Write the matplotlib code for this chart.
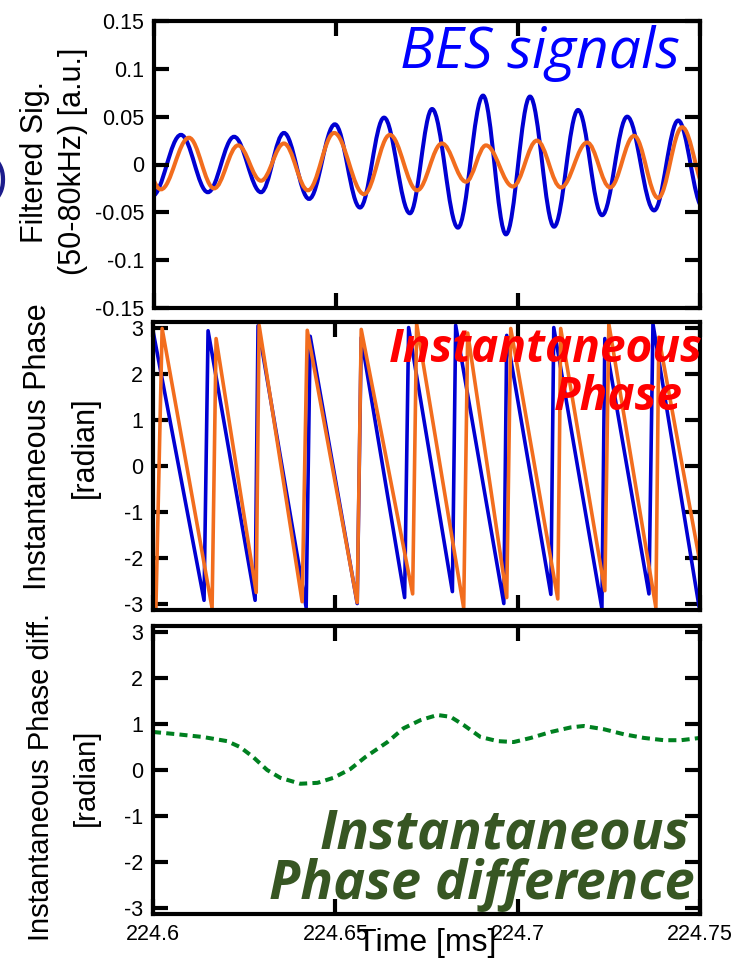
import matplotlib
matplotlib.use("Agg")
import matplotlib.pyplot as plt
from matplotlib.path import Path
from matplotlib.patches import PathPatch

plt.rcParams['font.family'] = ['Liberation Sans', 'DejaVu Sans']

# filtered BES signals, peaks and troughs (time in ms)
sig_blue_t = [224.5995, 224.6074, 224.6148, 224.6220, 224.6294, 224.6357, 224.6426, 224.6497,
              224.6566, 224.6632, 224.6703, 224.6764, 224.6835, 224.6904, 224.6967, 224.7033,
              224.7099, 224.7165, 224.7231, 224.7300, 224.7374, 224.7440, 224.7508]
sig_blue_v = [-0.033, 0.031, -0.029, 0.029, -0.029, 0.033, -0.036, 0.042,
              -0.045, 0.049, -0.051, 0.058, -0.066, 0.072, -0.073, 0.071,
              -0.065, 0.057, -0.053, 0.050, -0.048, 0.046, -0.045]
sig_orange_t = [224.5948, 224.6019, 224.6096, 224.6165, 224.6231, 224.6294, 224.6357, 224.6423,
                224.6495, 224.6577, 224.6648, 224.6723, 224.6791, 224.6857, 224.6912, 224.6986,
                224.7052, 224.7118, 224.7190, 224.7253, 224.7319, 224.7385, 224.7451, 224.7519]
sig_orange_v = [0.028, -0.026, 0.028, -0.025, 0.020, -0.017, 0.022, -0.027,
                0.033, -0.031, 0.031, -0.027, 0.022, -0.018, 0.020, -0.023,
                0.025, -0.024, 0.023, -0.024, 0.030, -0.035, 0.039, -0.028]

# instantaneous phase, corners of the sawtooth [rad]
phase_blue_t = [224.6000, 224.6140, 224.6151, 224.6280, 224.6288, 224.6420, 224.6431, 224.6560,
                224.6571, 224.6690, 224.6701, 224.6821, 224.6830, 224.6962, 224.6970, 224.7091,
                224.7099, 224.7231, 224.7239, 224.7360, 224.7371, 224.7497]
phase_blue_v = [2.95, -2.93, 2.95, -2.93, 3.06, -3.09, 2.83, -3.00,
                2.80, -2.87, 3.02, -2.74, 3.07, -3.00, 2.85, -2.80,
                3.02, -3.11, 2.78, -2.79, 3.10, -3.05]
phase_orange_t = [224.5986, 224.6008, 224.6025, 224.6162, 224.6173, 224.6283, 224.6291, 224.6409,
                  224.6423, 224.6560, 224.6571, 224.6712, 224.6723, 224.6852, 224.6863, 224.6970,
                  224.6981, 224.7110, 224.7118, 224.7239, 224.7250, 224.7379, 224.7387, 224.7503]
phase_orange_v = [-2.30, -3.10, 3.00, -3.10, 2.78, -2.76, 3.07, -2.96,
                  2.96, -2.98, 2.98, -2.79, 3.10, -3.10, 2.90, -2.87,
                  3.00, -2.90, 3.00, -2.72, 3.10, -3.09, 2.81, -2.24]

# instantaneous phase difference [rad]
dphase_t = [224.6000, 224.6066, 224.6137, 224.6203, 224.6239, 224.6275, 224.6313, 224.6349,
            224.6404, 224.6451, 224.6495, 224.6541, 224.6582, 224.6643, 224.6687, 224.6734,
            224.6780, 224.6816, 224.6852, 224.6898, 224.6945, 224.6989, 224.7036, 224.7091,
            224.7146, 224.7181, 224.7236, 224.7291, 224.7346, 224.7401, 224.7448, 224.7500]
dphase_v = [0.83, 0.78, 0.72, 0.63, 0.50, 0.28, 0.00, -0.17,
            -0.30, -0.28, -0.17, 0.02, 0.28, 0.61, 0.91, 1.09,
            1.20, 1.16, 0.98, 0.72, 0.63, 0.61, 0.70, 0.83,
            0.93, 0.96, 0.89, 0.78, 0.70, 0.65, 0.65, 0.70]

xticks = [224.6, 224.65, 224.7, 224.75]
xticklabels = ['224.6', '224.65', '224.7', '224.75']
sig_yticks = [0.15, 0.1, 0.05, 0, -0.05, -0.1, -0.15]
sig_yticklabels = ['0.15', '0.1', '0.05', '0', '-0.05', '-0.1', '-0.15']
phase_yticks = [3, 2, 1, 0, -1, -2, -3]
phase_yticklabels = ['3', '2', '1', '0', '-1', '-2', '-3']

BLUE = '#0000d2'
ORANGE = '#f26d1e'
PI = 3.14159
ANNOT_FONT = ['Open Sans', 'DejaVu Sans']


def wave_path(t, v, k=0.364):
    # half-cosine shaped bezier between successive extremes
    verts = [(t[0], v[0])]
    codes = [Path.MOVETO]
    for i in range(1, len(t)):
        dt = t[i] - t[i - 1]
        verts += [(t[i - 1] + k * dt, v[i - 1]), (t[i] - k * dt, v[i]), (t[i], v[i])]
        codes += [Path.CURVE4] * 3
    return Path(verts, codes)


def style(ax, yticks, yticklabels, ylim):
    ax.set_xlim(224.6, 224.75)
    ax.set_ylim(*ylim)
    ax.set_xticks(xticks)
    ax.set_xticklabels(xticklabels)
    ax.set_yticks(yticks)
    ax.set_yticklabels(yticklabels)
    ax.tick_params(direction='in', length=11, width=3, top=True, right=True,
                   labelsize=15.5, pad=7, colors='black')
    for s in ax.spines.values():
        s.set_linewidth(3)


W, H = 736, 966
fig = plt.figure(figsize=(W / 100, H / 100), dpi=100)
ax1 = fig.add_axes([154 / W, 1 - 308 / H, 546 / W, 287 / H])
ax2 = fig.add_axes([153 / W, 1 - 610 / H, 547 / W, 288 / H])
ax3 = fig.add_axes([153 / W, 1 - 914 / H, 547 / W, 288 / H])

# top: BES signals
ax1.add_patch(PathPatch(wave_path(sig_blue_t, sig_blue_v), fill=False, edgecolor=BLUE, lw=2.9))
ax1.add_patch(PathPatch(wave_path(sig_orange_t, sig_orange_v), fill=False, edgecolor=ORANGE, lw=2.9))
style(ax1, sig_yticks, sig_yticklabels, (-0.15, 0.15))
ax1.tick_params(labelbottom=False)
ax1.set_ylabel('Filtered Sig.\n(50-80kHz) [a.u.]', fontsize=22, linespacing=1.35)
ax1.yaxis.set_label_coords(-0.121, 0.51)
ax1.text(0.963, 0.836, 'BES signals', transform=ax1.transAxes, ha='right', va='baseline',
         color='#0000ff', fontsize=41, style='italic', family=ANNOT_FONT)

# middle: instantaneous phase
ax2.plot(phase_blue_t, phase_blue_v, color=BLUE, lw=2.6)
ax2.plot(phase_orange_t, phase_orange_v, color=ORANGE, lw=2.6)
style(ax2, phase_yticks, phase_yticklabels, (-PI, PI))
ax2.tick_params(labelbottom=False)
ax2.set_ylabel('Instantaneous Phase\n[radian]', fontsize=22, linespacing=1.75)
ax2.yaxis.set_label_coords(-0.097, 0.566)
ax2.text(1.004, 0.861, 'Instantaneous', transform=ax2.transAxes, ha='right', va='baseline',
         color='#ff0000', fontsize=33, style='italic', weight='bold', family=ANNOT_FONT)
ax2.text(0.969, 0.694, 'Phase', transform=ax2.transAxes, ha='right', va='baseline',
         color='#ff0000', fontsize=33, style='italic', weight='bold', family=ANNOT_FONT)

# bottom: phase difference
ax3.plot(dphase_t, dphase_v, color='#008020', lw=2.9, dashes=(2, 1.3))
style(ax3, phase_yticks, phase_yticklabels, (-PI, PI))
ax3.set_ylabel('Instantaneous Phase diff.\n[radian]', fontsize=21, linespacing=1.75)
ax3.yaxis.set_label_coords(-0.097, 0.475)
ax3.set_xlabel('Time [ms]', fontsize=23)
ax3.xaxis.set_label_coords(0.5, -0.05)
ax3.text(0.982, 0.229, 'Instantaneous', transform=ax3.transAxes, ha='right', va='baseline',
         color='#375623', fontsize=39, style='italic', weight='bold', family=ANNOT_FONT)
ax3.text(0.991, 0.052, 'Phase difference', transform=ax3.transAxes, ha='right', va='baseline',
         color='#375623', fontsize=39, style='italic', weight='bold', family=ANNOT_FONT)

# cropped panel letter at the left edge
fig.text(8 / W, 1 - 180 / H, ')', ha='right', va='center', fontsize=35, color='#1c1c8c')

fig.savefig('out.png', dpi=100)
